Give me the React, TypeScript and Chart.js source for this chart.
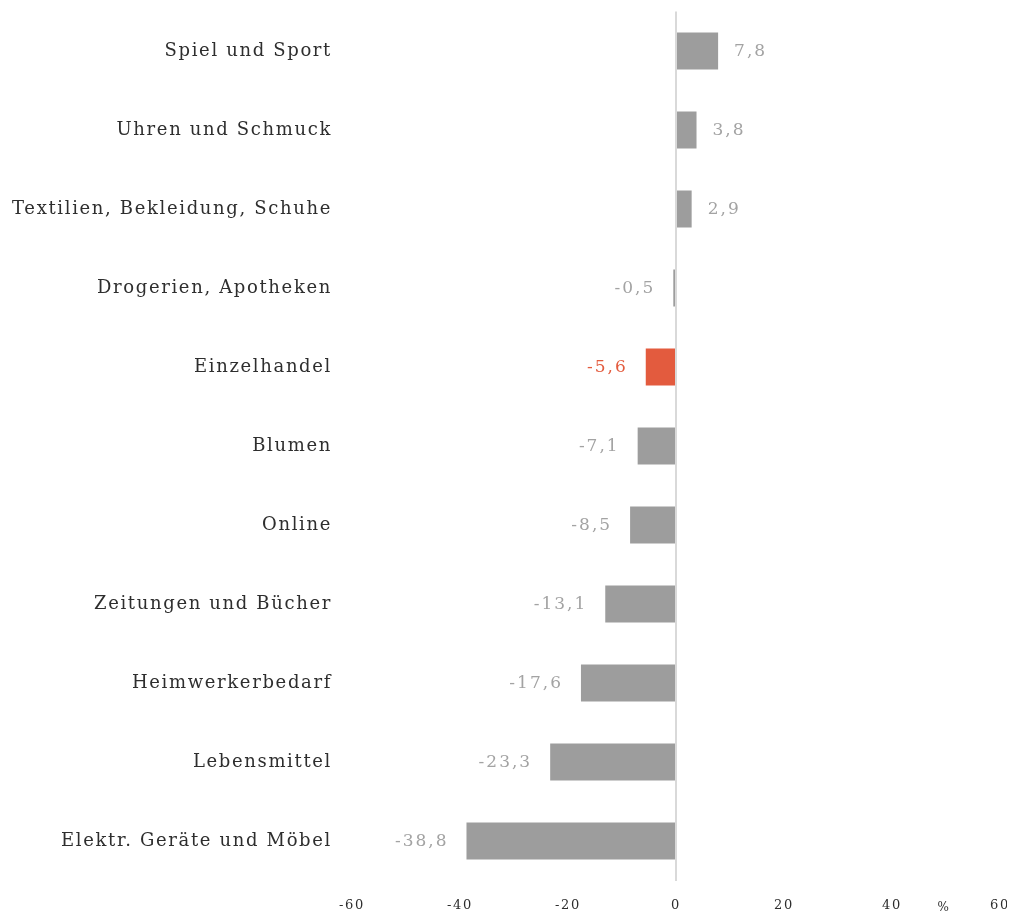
import React, { useEffect, useRef } from 'react';
import { Chart, registerables } from 'chart.js';

Chart.register(...registerables);

const categories = [
  'Spiel und Sport',
  'Uhren und Schmuck',
  'Textilien, Bekleidung, Schuhe',
  'Drogerien, Apotheken',
  'Einzelhandel',
  'Blumen',
  'Online',
  'Zeitungen und Bücher',
  'Heimwerkerbedarf',
  'Lebensmittel',
  'Elektr. Geräte und Möbel',
];
const values = [7.8, 3.8, 2.9, -0.5, -5.6, -7.1, -8.5, -13.1, -17.6, -23.3, -38.8];
const highlightCategory = 'Einzelhandel';
const xMin = -60;
const xMax = 60;
const xStep = 20;
const unitLabel = '%';
const unitLabelValue = 49.5;

const GRAY_BAR = '#9d9d9d';
const RED = '#e35b3e';
const LABEL_GRAY = '#a3a3a3';
const TEXT_DARK = '#2e2e2e';
const FONT = "'DejaVu Serif', serif";

export default function App() {
  const ref = useRef<HTMLCanvasElement>(null);

  useEffect(() => {
    if (!ref.current) return;

    const spacing = {
      id: 'spacing',
      beforeUpdate(c: any) {
        c.ctx.letterSpacing = '1.65px';
      },
      beforeDraw(c: any) {
        c.ctx.letterSpacing = '1.65px';
      },
    };

    const valueLabels = {
      id: 'valueLabels',
      afterDatasetsDraw(c: any) {
        const ctx = c.ctx;
        const meta = c.getDatasetMeta(0);
        ctx.save();
        ctx.letterSpacing = '2px';
        ctx.font = `17px ${FONT}`;
        ctx.textBaseline = 'middle';
        meta.data.forEach((bar: any, i: number) => {
          const v = values[i];
          const { x, y } = bar.getProps(['x', 'y'], true);
          const txt = v.toFixed(1).replace('.', ',');
          ctx.fillStyle = categories[i] === highlightCategory ? RED : LABEL_GRAY;
          if (v >= 0) {
            ctx.textAlign = 'left';
            ctx.fillText(txt, x + 16, y + 1);
          } else {
            ctx.textAlign = 'right';
            ctx.fillText(txt, x - 18, y + 1);
          }
        });
        const xs = c.scales.x;
        ctx.font = `12px ${FONT}`;
        ctx.letterSpacing = '0px';
        ctx.fillStyle = TEXT_DARK;
        ctx.textAlign = 'center';
        ctx.fillText(unitLabel, xs.getPixelForValue(unitLabelValue), c.chartArea.bottom + 27);
        ctx.restore();
      },
    };

    const chart = new Chart(ref.current, {
      type: 'bar',
      data: {
        labels: categories,
        datasets: [
          {
            data: values,
            backgroundColor: categories.map((c) => (c === highlightCategory ? RED : GRAY_BAR)),
            borderWidth: 0,
            categoryPercentage: 1,
            barPercentage: 0.47,
          },
        ],
      },
      options: {
        indexAxis: 'y',
        animation: false,
        responsive: true,
        maintainAspectRatio: false,
        layout: { padding: { top: 11.5, right: 15, left: 0, bottom: 0 } },
        plugins: {
          legend: { display: false },
          tooltip: { enabled: false },
        },
        scales: {
          x: {
            min: xMin,
            max: xMax,
            ticks: {
              stepSize: xStep,
              padding: 0,
              color: TEXT_DARK,
              font: { family: FONT, size: 13 },
              maxRotation: 0,
            },
            grid: {
              drawTicks: true,
              tickLength: 17,
              tickColor: 'rgba(0,0,0,0)',
              lineWidth: 2,
              color: (ctx: any) => (ctx.tick && ctx.tick.value === 0 ? '#d9d9d9' : 'rgba(0,0,0,0)'),
            },
            border: { display: false },
            afterFit(scale: any) {
              scale.height = 31.5;
            },
          },
          y: {
            ticks: {
              padding: 0,
              color: TEXT_DARK,
              font: { family: FONT, size: 18 },
            },
            grid: { display: false, drawTicks: true, tickLength: 20 },
            border: { display: false },
            afterFit(scale: any) {
              scale.width = 352;
            },
          },
        },
      },
      plugins: [spacing, valueLabels],
    });

    return () => chart.destroy();
  }, []);

  return (
    <div style={{ margin: '-8px 0 0 -8px', width: 1015, height: 912, position: 'relative' }}>
      <canvas ref={ref} />
    </div>
  );
}
